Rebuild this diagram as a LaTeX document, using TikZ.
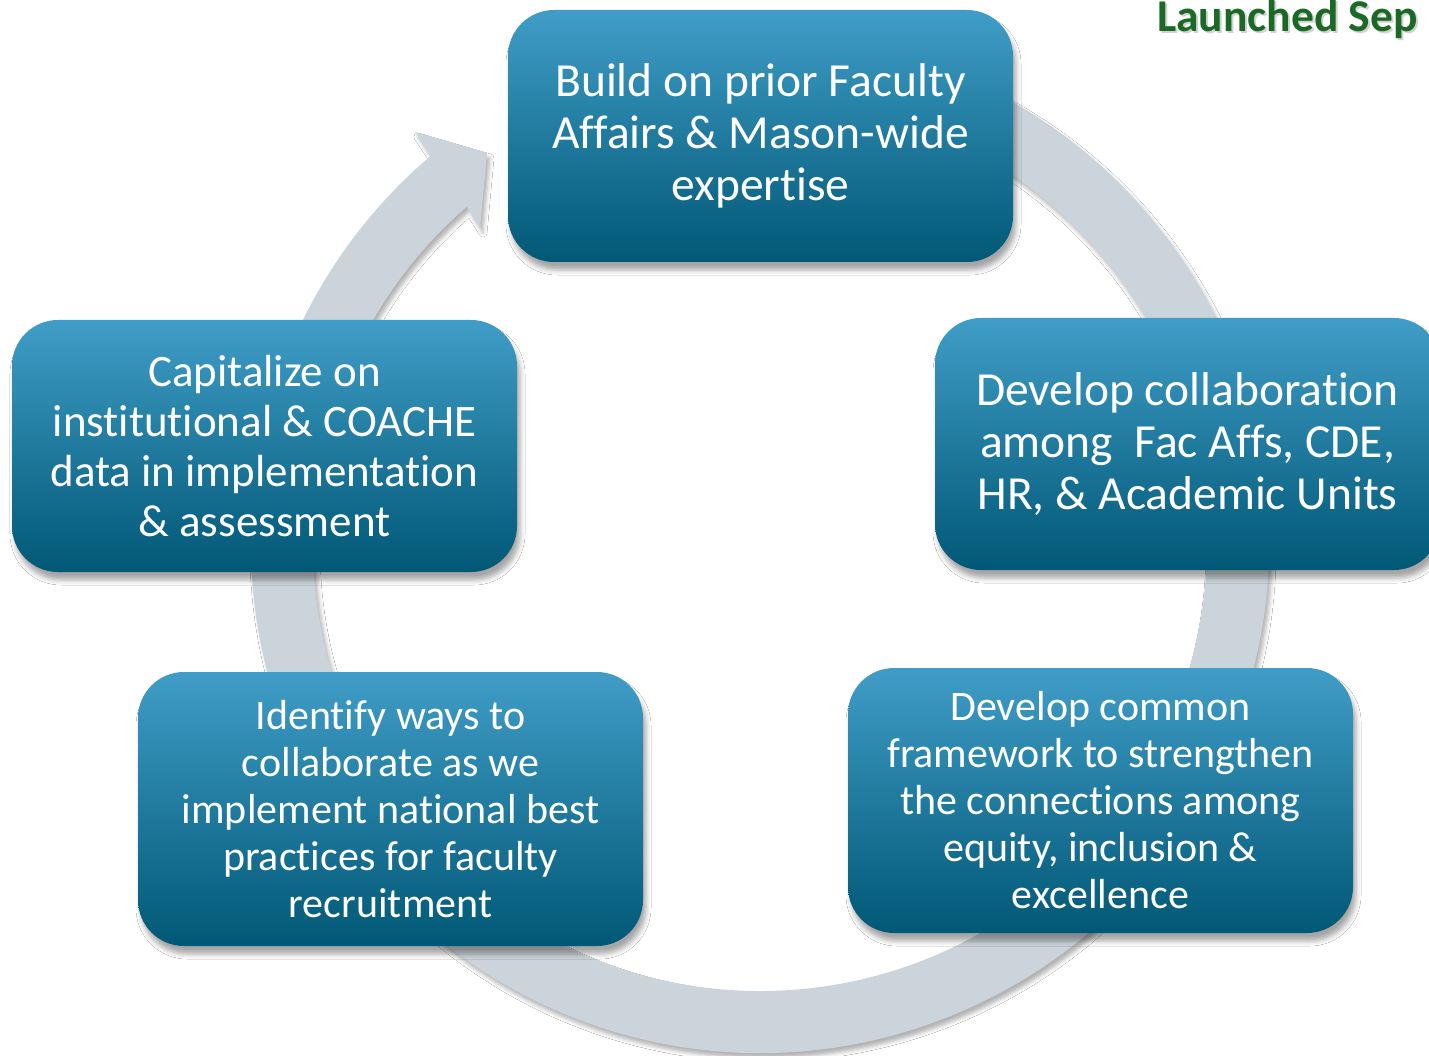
\documentclass[tikz,border=0pt]{standalone}
\usepackage{fontspec}
\setmainfont{Carlito}[Ligatures=NoCommon]
\usetikzlibrary{shadows.blur}

\definecolor{ringgray}{RGB}{203,212,218}
\definecolor{boxtop}{RGB}{64,157,199}
\definecolor{boxmid}{RGB}{6,121,157}
\definecolor{boxbot}{RGB}{1,88,118}
\definecolor{launchgreen}{RGB}{27,105,37}

\begin{document}
\begin{tikzpicture}[x=1pt,y=-1pt,
  stepbox/.style={rounded corners=46pt, top color=boxtop, middle color=boxmid,
    bottom color=boxbot, text=white, align=center, inner sep=0pt,
    minimum width=505pt,
    blur shadow={shadow xshift=3pt, shadow yshift=-8pt,
      shadow blur radius=5pt, shadow opacity=35}},
  ringshadow/.style={blur shadow={shadow xshift=3pt, shadow yshift=-5pt,
      shadow blur radius=4pt, shadow opacity=30}},
]
\useasboundingbox (0,0) rectangle (1429,1056);
\fill[white] (0,0) rectangle (1429,1056);

% circular arrow behind the steps
\coordinate (c) at (760,544);
\coordinate (hbo) at (415,132);
\coordinate (tip) at (487,153);
\coordinate (hbi) at (480,228);
\fill[ringgray, ringshadow]
  ([shift={(-70:509)}]c) arc[start angle=-70, end angle=229.7, radius=509]
  -- (hbo) -- (tip) -- (hbi)
  -- ([shift={(229:447)}]c) arc[start angle=229, end angle=-70, radius=447]
  -- cycle;

% the five steps
\node[stepbox, minimum height=252pt, font=\fontsize{47.5}{52}\selectfont]
  (b1) at (760.5,136) {Build on prior Faculty\\Affairs \& Mason-wide\\expertise};
\node[stepbox, minimum height=252pt, font=\fontsize{47.5}{52}\selectfont]
  (b2) at (1187.5,444) {Develop collaboration\\among~~Fac Affs, CDE,\\HR, \& Academic Units};
\node[stepbox, minimum height=265pt, font=\fontsize{42}{47}\selectfont]
  (b3) at (1100.5,800.5) {Develop common\\framework to strengthen\\the connections among\\equity, inclusion \&\\excellence};
\node[stepbox, minimum height=274pt, font=\fontsize{42}{47}\selectfont]
  (b4) at (390.5,809) {Identify ways to\\collaborate as we\\implement national best\\practices for faculty\\recruitment};
\node[stepbox, minimum height=252pt, font=\fontsize{45}{50}\selectfont]
  (b5) at (264.5,446) {Capitalize on\\institutional \& COACHE\\data in implementation\\\& assessment};

% heading
\node[anchor=base west, inner sep=0pt, text=black!35, opacity=0.5,
  font=\fontsize{45.5}{50}\selectfont\bfseries] at (1159,34) {Launched Sep};
\node[anchor=base west, inner sep=0pt, text=launchgreen,
  font=\fontsize{45.5}{50}\selectfont\bfseries] (title) at (1157,32) {Launched Sep};
\end{tikzpicture}
\end{document}
